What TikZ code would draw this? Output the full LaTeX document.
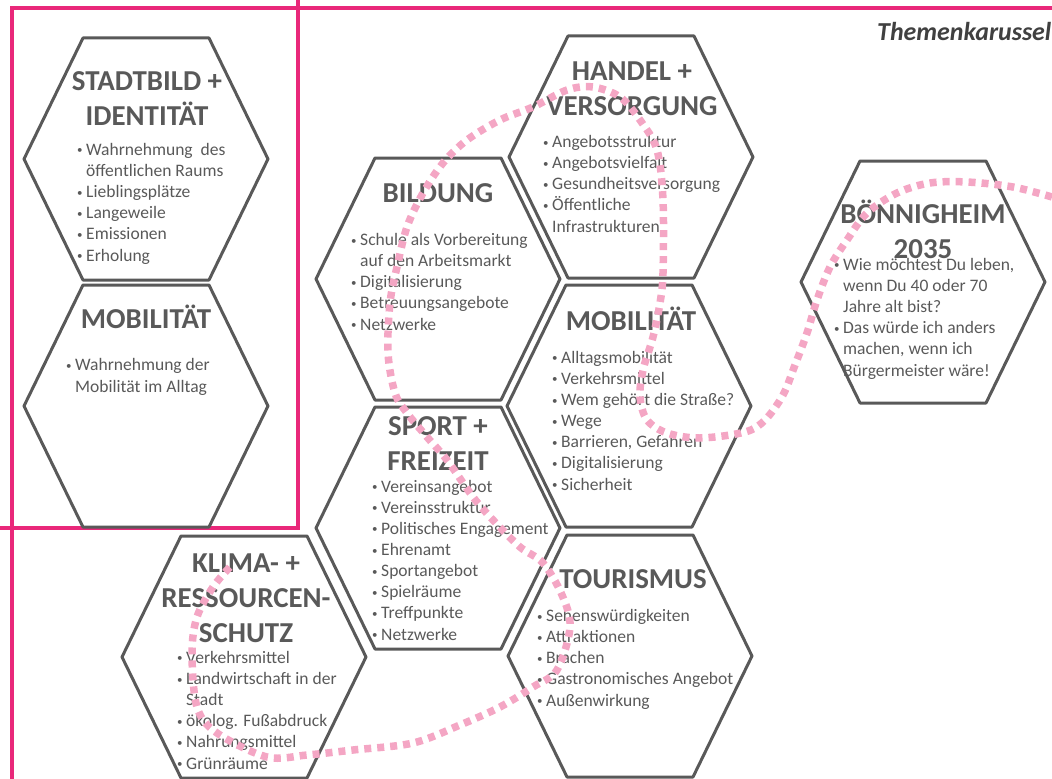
\documentclass[tikz,border=0pt]{standalone}
\usepackage{fontspec}
\setmainfont{Carlito}
\usetikzlibrary{positioning}
\definecolor{framepink}{RGB}{233,40,122}
\definecolor{dotpink}{RGB}{244,166,196}
\definecolor{hexgray}{RGB}{89,89,89}
\definecolor{headgray}{RGB}{64,64,64}
\tikzstyle{hexline} = [draw=hexgray, line width=3bp, line join=round]
\tikzstyle{hextitle} = [text=hexgray, font=\fontsize{29}{35}\selectfont\bfseries, align=center, anchor=base, inner sep=0pt]
\tikzstyle{hexitems} = [text=hexgray, font=\fontsize{17.6}{21.2}\selectfont, align=left, anchor=base west, inner sep=0pt]
\tikzstyle{pinkframe} = [draw=framepink, line width=3.5bp]
\tikzstyle{carousel} = [draw=dotpink, line width=7.5bp, dash pattern=on 7bp off 6bp]
\tikzset{hexcell/.pic={\draw[hexline] (-122,0) -- (-63,-121) -- (63,-121) -- (122,0) -- (63,121) -- (-63,121) -- cycle;
                       \coordinate (-c) at (0,0);}}
\newcommand{\bul}{\makebox[9bp][l]{\raisebox{1.5bp}{\fontsize{11}{11}\selectfont\textbullet}}}
\newcommand{\bulskip}{\hspace*{9bp}}

\begin{document}
\begin{tikzpicture}[x=1bp, y=-1bp]
   \useasboundingbox (0,0) rectangle (1052,779);
   % Frames
   \draw[pinkframe] (1052,8) -- (12,8) -- (12,779);
   \draw[pinkframe] (298,0) -- (298,528) -- (0,528);
   \node[anchor=base west, font=\fontsize{26}{26}\selectfont\bfseries\itshape, text=headgray, inner sep=0pt] (thema) at (877,41) {Themenkarussel};

   % Place hexagons
   \pic (stadt) at (146,159) {hexcell};
   \pic (mobl) at (146,406) {hexcell};
   \pic (bild) at (438,279) {hexcell};
   \pic (handel) at (631,157) {hexcell};
   \pic (mobr) at (629,406) {hexcell};
   \pic (sport) at (438,528) {hexcell};
   \pic (tour) at (630,656) {hexcell};
   \pic (klima) at (244,657) {hexcell};
   \pic (boen) at (923,282) {hexcell};

   % Texts (anchored at the baseline of the last line)
   \node[hextitle] (stadt-t) at (147,125) {STADTBILD +\\IDENTITÄT};
   \node[hexitems] (stadt-l) at (77,261) {\bul Wahrnehmung\ \ des\\\bulskip öffentlichen Raums\\\bul Lieblingsplätze\\\bul Langeweile\\\bul Emissionen\\\bul Erholung};

   \node[hextitle] (mobl-t) at (146,328) {MOBILITÄT};
   \node[hexitems] (mobl-l) at (66,392) {\bul Wahrnehmung der\\\bulskip Mobilität im Alltag};

   \node[hextitle] (bild-t) at (438,202) {BILDUNG};
   \node[hexitems] (bild-l) at (351,330) {\bul Schule als Vorbereitung\\\bulskip auf den Arbeitsmarkt\\\bul Digitalisierung\\\bul Betreuungsangebote\\\bul Netzwerke};

   \node[hextitle] (handel-t) at (632,115) {HANDEL +\\VERSORGUNG};
   \node[hexitems] (handel-l) at (543,232) {\bul Angebotsstruktur\\\bul Angebotsvielfalt\\\bul Gesundheitsversorgung\\\bul Öffentliche\\\bulskip Infrastrukturen};

   \node[hextitle] (mobr-t) at (631,330) {MOBILITÄT};
   \node[hexitems] (mobr-l) at (552,490) {\bul Alltagsmobilität\\\bul Verkehrsmittel\\\bul Wem gehört die Straße?\\\bul Wege\\\bul Barrieren, Gefahren\\\bul Digitalisierung\\\bul Sicherheit};

   \node[hextitle] (sport-t) at (438,470) {SPORT +\\FREIZEIT};
   \node[hexitems] (sport-l) at (372,640) {\bul Vereinsangebot\\\bul Vereinsstruktur\\\bul Politisches Engagement\\\bul Ehrenamt\\\bul Sportangebot\\\bul Spielräume\\\bul Treffpunkte\\\bul Netzwerke};

   \node[hextitle] (tour-t) at (633,588) {TOURISMUS};
   \node[hexitems] (tour-l) at (537,706) {\bul Sehenswürdigkeiten\\\bul Attraktionen\\\bul Brachen\\\bul Gastronomisches Angebot\\\bul Außenwirkung};

   \node[hextitle] (klima-t) at (246,642) {KLIMA- +\\RESSOURCEN-\\SCHUTZ};
   \node[hexitems] (klima-l) at (177,769) {\bul Verkehrsmittel\\\bul Landwirtschaft in der\\\bulskip Stadt\\\bul ökolog. Fußabdruck\\\bul Nahrungsmittel\\\bul Grünräume};

   \node[hextitle] (boen-t) at (923,258) {BÖNNIGHEIM\\2035};
   \node[hexitems] (boen-l) at (834,376) {\bul Wie möchtest Du leben,\\\bulskip wenn Du 40 oder 70\\\bulskip Jahre alt bist?\\\bul Das würde ich anders\\\bulskip machen, wenn ich\\\bulskip Bürgermeister wäre!};

   % Carousel path
   \draw[carousel] plot[smooth, tension=0.55] coordinates {(1052,197) (1013,187) (967,182) (930,183) (897,193) (867,213) (847,240) (830,267) (817,300) (807,333) (795,365) (783,395) (765,420) (745,432) (700,438) (667,433) (647,420) (640,397) (643,370) (653,337) (660,303) (663,273) (663,200) (657,150) (640,120) (620,97) (593,87) (567,90) (533,107) (500,120) (467,140) (443,163) (423,193) (407,227) (397,267) (390,303) (388,353) (395,393) (407,413) (427,437) (447,460) (473,497) (493,520) (520,547) (543,563) (562,595) (570,627) (557,670) (533,687) (500,707) (460,725) (413,743) (353,750) (307,755) (267,757) (217,733) (197,707) (192,653) (197,617) (213,587) (230,567)};
\end{tikzpicture}
\end{document}
